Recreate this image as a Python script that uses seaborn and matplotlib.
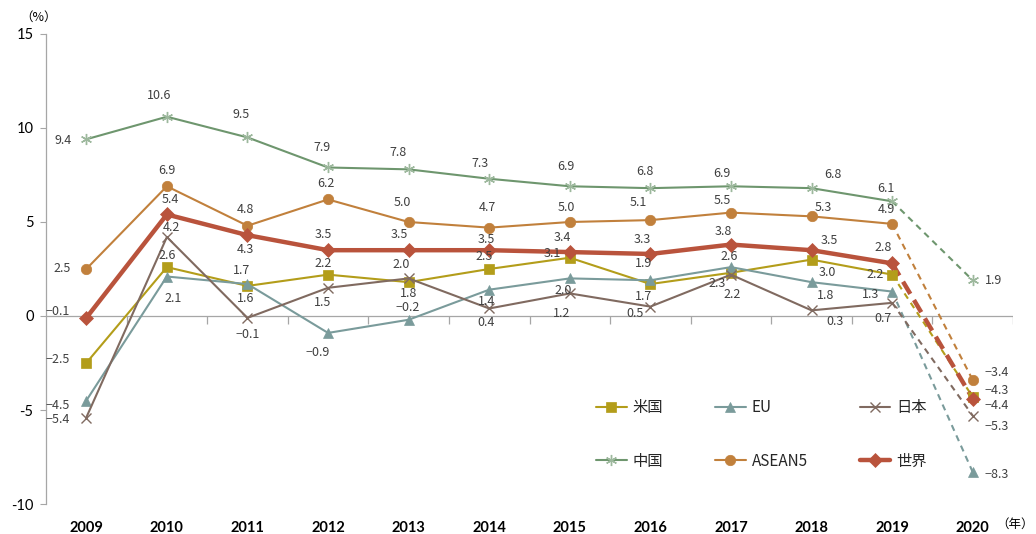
import numpy as np
import pandas as pd
import seaborn as sns
import matplotlib.pyplot as plt

# Data (real GDP growth, %), 2020 is a forecast
years = [2009, 2010, 2011, 2012, 2013, 2014, 2015, 2016, 2017, 2018, 2019, 2020]
us = [-2.5, 2.6, 1.6, 2.2, 1.8, 2.5, 3.1, 1.7, 2.3, 3.0, 2.2, -4.3]
eu = [-4.5, 2.1, 1.7, -0.9, -0.2, 1.4, 2.0, 1.9, 2.6, 1.8, 1.3, -8.3]
japan = [-5.4, 4.2, -0.1, 1.5, 2.0, 0.4, 1.2, 0.5, 2.2, 0.3, 0.7, -5.3]
china = [9.4, 10.6, 9.5, 7.9, 7.8, 7.3, 6.9, 6.8, 6.9, 6.8, 6.1, 1.9]
asean5 = [2.5, 6.9, 4.8, 6.2, 5.0, 4.7, 5.0, 5.1, 5.5, 5.3, 4.9, -3.4]
world = [-0.1, 5.4, 4.3, 3.5, 3.5, 3.5, 3.4, 3.3, 3.8, 3.5, 2.8, -4.4]
series_names = ["米国", "EU", "日本", "中国", "ASEAN5", "世界"]
y_ticks = [-10, -5, 0, 5, 10, 15]

values = dict(zip(series_names, [us, eu, japan, china, asean5, world]))

# styles
styles = {
    "米国": dict(color="#B39D1A", marker="s", ms=7.5, lw=1.5, mfc="#B39D1A"),
    "EU": dict(color="#7A9B9B", marker="^", ms=7.5, lw=1.5, mfc="#7A9B9B"),
    "日本": dict(color="#806A60", marker="x", ms=7, lw=1.5, mfc="#806A60"),
    "中国": dict(color="#6E966E", marker=(6, 2, 0), ms=8, lw=1.5, mfc="#9DB89D"),
    "ASEAN5": dict(color="#C1803C", marker="o", ms=7.5, lw=1.5, mfc="#C1803C"),
    "世界": dict(color="#B9533C", marker="D", ms=7, lw=3.2, mfc="#B9533C"),
}

# label offsets in pixels (dx, dy) for each point
offsets = {
    "米国": [(-29, 3), (0, 12), (-2, -13), (-5, 11), (0, -11), (-5, 12), (-17, 4), (-7, -12), (-14, -11), (16, -13), (-17, 0), (24, 6)],
    "EU": [(-29, -5), (6, -22), (-6, 14), (-10, -20), (-1, 12), (-3, -12), (-7, -12), (-7, 17), (-2, 11), (14, -13), (-22, -3), (24, -2)],
    "日本": [(-29, -2), (5, 10), (0, -17), (-5, -15), (-7, 14), (-3, -14), (-8, -20), (-15, -7), (1, -20), (24, -11), (-9, -16), (24, -11)],
    "中国": [(-23, -1), (-8, 21), (-6, 23), (-6, 20), (-11, 17), (-9, 15), (-4, 20), (-5, 17), (-9, 13), (21, 14), (-6, 13), (21, 0)],
    "ASEAN5": [(-24, 0), (0, 16), (-2, 16), (-2, 16), (-6, 19), (-2, 20), (-3, 14), (-12, 18), (-9, 12), (12, 9), (-6, 14), (24, 7)],
    "世界": [(-29, 6), (3, 15), (-2, -14), (-5, 16), (-9, 16), (-3, 11), (-7, 15), (-8, 14), (-8, 13), (18, 10), (-9, 16), (24, -7)],
}

sns.set_theme(style="white")
plt.rcParams["font.family"] = ["Noto Sans CJK JP", "DejaVu Sans"]

fig = plt.figure(figsize=(10.36, 5.34), dpi=100)
ax = fig.add_axes([46 / 1036, 1 - 504 / 534, (1013 - 46) / 1036, (504 - 34) / 534])

df = pd.DataFrame({"year": years * len(series_names),
                   "series": np.repeat(series_names, len(years)),
                   "value": np.concatenate([values[n] for n in series_names])})

for name in series_names:
    st = styles[name]
    sub = df[df["series"] == name]
    solid = sub[sub["year"] <= 2019]
    fc = sub[sub["year"] >= 2019]
    is_x = name in ("日本", "中国")
    mkw = dict(markeredgecolor=st["mfc"], markeredgewidth=1.0 if is_x else 0.5)
    # dashed forecast segment
    dash = (3.2, 1.6) if name == "世界" else (3.0, 2.4)
    sns.lineplot(data=fc, x="year", y="value", ax=ax, color=st["color"],
                 lw=st["lw"], dashes=False, linestyle=(0, dash), zorder=2)
    sns.lineplot(data=solid, x="year", y="value", ax=ax, color=st["color"],
                 lw=st["lw"], marker=st["marker"], ms=st["ms"],
                 markerfacecolor=st["mfc"], label=name, zorder=3, **mkw)
    last = sub[sub["year"] == 2020]
    ax.plot(last["year"], last["value"], ls="none", marker=st["marker"],
            ms=st["ms"], color=st["mfc"], zorder=3, **mkw)
    for (yr, v), (dx, dy) in zip(zip(sub["year"], sub["value"]), offsets[name]):
        txt = f"{v:.1f}".replace("-", "\u2212")
        ax.annotate(txt, (yr, v), xytext=(dx, dy), textcoords="offset pixels",
                    ha="center", va="center", fontsize=9, color="#404040", zorder=5)

ax.set_xlim(2008.5, 2020.5)
ax.set_ylim(-10, 15)
ax.set_yticks(y_ticks)
ax.set_yticklabels([str(t) for t in y_ticks], fontsize=10.5, family="Lato", color="#000000")
ax.set_xticks(years)
ax.set_xticklabels([str(y) for y in years], fontsize=10.5, family="Lato",
                   fontweight="bold", color="#000000")
ax.tick_params(axis="x", length=0, pad=12)
ax.tick_params(axis="y", length=4, width=0.8, color="#A6A6A6", left=True, pad=5)
ax.set_xlabel("")
ax.set_ylabel("")

for side in ["top", "right", "bottom"]:
    ax.spines[side].set_visible(False)
ax.spines["left"].set_color("#A6A6A6")
ax.spines["left"].set_linewidth(0.9)

# zero line with category boundary ticks
ax.axhline(0, color="#A6A6A6", lw=0.9, zorder=1)
ax.vlines([y + 0.5 for y in years], -0.4, 0, color="#A6A6A6", lw=0.9, zorder=1)

fig.text(20 / 1036, 1 - 17 / 534, "（%）", fontsize=9, ha="left", va="center", color="#000000")
fig.text(1034 / 1036, 1 - 524 / 534, "（年）", fontsize=9, ha="right", va="center", color="#000000")

handles, labels = ax.get_legend_handles_labels()
order = ["米国", "中国", "EU", "ASEAN5", "日本", "世界"]
hmap = dict(zip(labels, handles))
leg = ax.legend([hmap[o] for o in order], order, ncol=3, frameon=False,
                loc="upper left", bbox_to_anchor=(596 / 1036, 1 - 399 / 534),
                bbox_transform=fig.transFigure, borderpad=0, borderaxespad=0,
                handlelength=2.0, handletextpad=0.4, columnspacing=3.4,
                labelspacing=2.4, prop={"size": 11})

fig.savefig("out.png", dpi=100)
